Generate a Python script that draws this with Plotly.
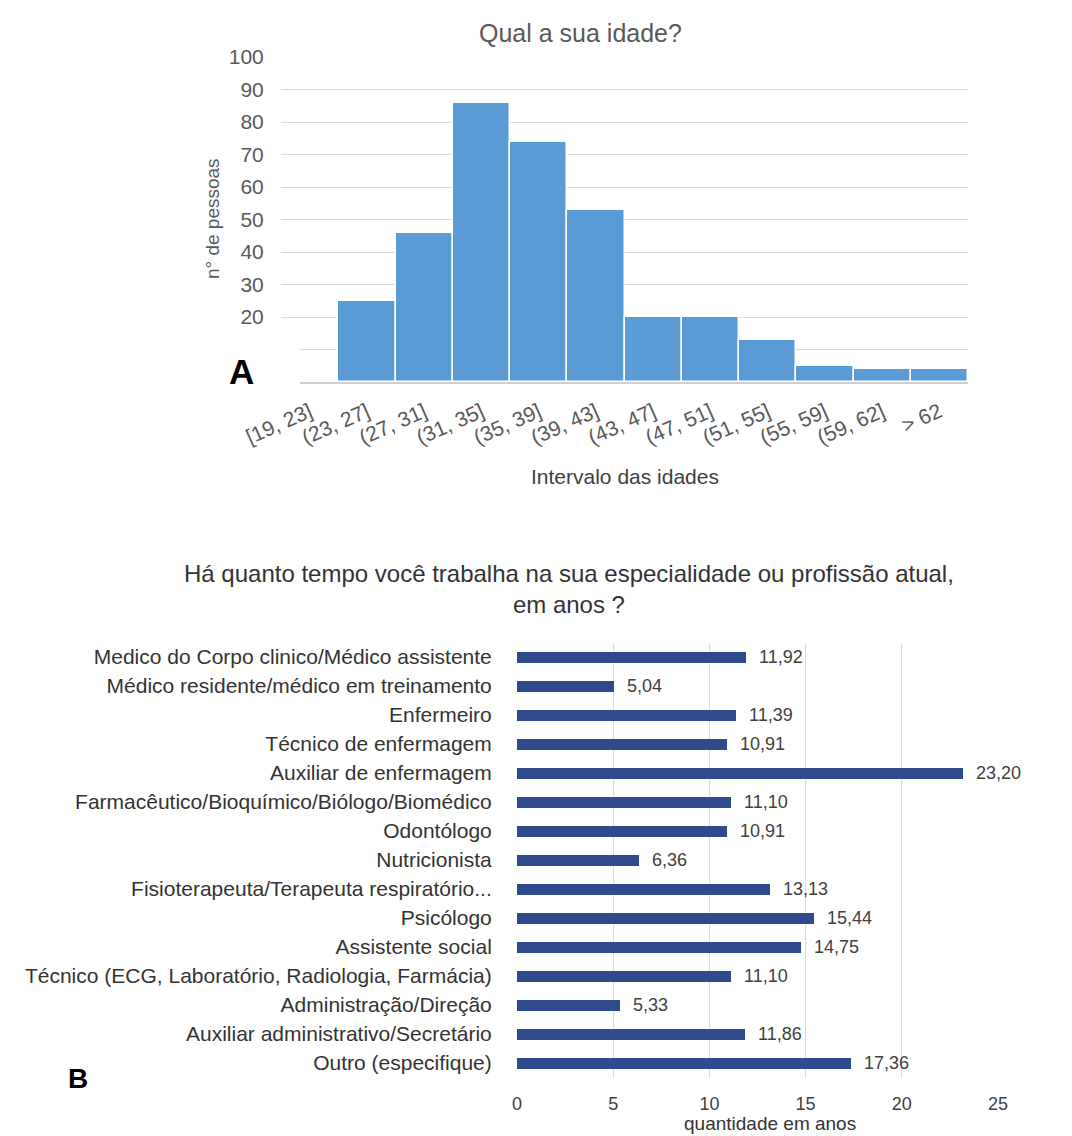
import plotly.graph_objects as go

# Age distribution of respondents
idade_faixas = ["[19, 23]", "(23, 27]", "(27, 31]", "(31, 35]", "(35, 39]", "(39, 43]",
                "(43, 47]", "(47, 51]", "(51, 55]", "(55, 59]", "(59, 62]", "> 62"]
idade_pessoas = [0, 25, 46, 86, 74, 53, 20, 20, 13, 5, 4, 4]
idade_ticks = [0, 10, 20, 30, 40, 50, 60, 70, 80, 90, 100]

# Years working in current speciality / profession
profissoes = [
    "Medico do Corpo clinico/Médico assistente",
    "Médico residente/médico em treinamento",
    "Enfermeiro",
    "Técnico de enfermagem",
    "Auxiliar de enfermagem",
    "Farmacêutico/Bioquímico/Biólogo/Biomédico",
    "Odontólogo",
    "Nutricionista",
    "Fisioterapeuta/Terapeuta respiratório...",
    "Psicólogo",
    "Assistente social",
    "Técnico (ECG, Laboratório, Radiologia, Farmácia)",
    "Administração/Direção",
    "Auxiliar administrativo/Secretário",
    "Outro (especifique)",
]
anos = [11.92, 5.04, 11.39, 10.91, 23.20, 11.10, 10.91, 6.36, 13.13,
        15.44, 14.75, 11.10, 5.33, 11.86, 17.36]

W, H = 1072, 1136
FONT = "Liberation Sans, Arial, sans-serif"


def px(x):
    return x / W


def py(y):
    return 1 - y / H


def fmt(v):
    return "\u00a0\u00a0" + f"{v:.2f}".replace(".", ",")


def label(text, x, y, size, color="#404040", **kw):
    return dict(text=text, x=px(x), y=py(y), xref="paper", yref="paper",
                xanchor="center", yanchor="middle", showarrow=False,
                font=dict(size=size, color=color), **kw)


fig = go.Figure()

fig.add_trace(go.Bar(
    x=idade_faixas, y=idade_pessoas, width=1,
    marker=dict(color="#5B9BD5", line=dict(color="white", width=1.5)),
    xaxis="x", yaxis="y", showlegend=False,
))

fig.add_trace(go.Bar(
    x=anos, y=profissoes, orientation="h", width=0.35,
    marker=dict(color="#2F4B8C", line=dict(width=0)),
    text=[fmt(v) for v in anos], textposition="outside",
    constraintext="none", cliponaxis=False,
    textfont=dict(size=18, color="#404040", family=FONT),
    xaxis="x2", yaxis="y2", showlegend=False,
))

fig.update_layout(
    width=W, height=H, autosize=False,
    margin=dict(l=0, r=0, t=0, b=0, pad=0),
    paper_bgcolor="white", plot_bgcolor="white",
    font=dict(family=FONT, color="#404040"),
    bargap=0,
    xaxis=dict(
        domain=[px(281), px(968)], anchor="y", type="category", automargin=False,
        tickangle=-24, tickfont=dict(size=21, color="#595959"),
        ticklabelstandoff=8,
        showgrid=False, zeroline=False,
        showline=True, linecolor="#d0d0d0", linewidth=1.5, ticks="",
    ),
    yaxis=dict(
        domain=[py(382), py(57)], anchor="x", range=[0, 100], automargin=False,
        tickvals=idade_ticks,
        ticktext=["" if t < 20 else str(t) for t in idade_ticks],
        tickfont=dict(size=21, color="#595959"),
        gridcolor="#dcdcdc", gridwidth=1.2, zeroline=False,
        ticks="outside", ticklen=12, tickcolor="rgba(0,0,0,0)",
    ),
    xaxis2=dict(
        domain=[px(517), px(998)], anchor="y2", range=[0, 25], dtick=5, automargin=False,
        tickfont=dict(size=18, color="#404040"),
        gridcolor="#dcdcdc", zeroline=False, showline=False,
        ticks="outside", ticklen=10, tickcolor="rgba(0,0,0,0)",
    ),
    yaxis2=dict(
        domain=[py(1077.5), py(642.5)], anchor="x2", automargin=False,
        categoryorder="array", categoryarray=profissoes, autorange="reversed",
        tickfont=dict(size=21, color="#333333"),
        showgrid=False, zeroline=False,
        ticks="outside", ticklen=20, tickcolor="rgba(0,0,0,0)",
    ),
    shapes=[dict(
        type="rect", xref="paper", yref="paper", layer="above",
        x0=px(190), x1=px(300), y0=py(392), y1=py(333),
        fillcolor="white", line=dict(width=0),
    )],
    annotations=[
        label("Qual a sua idade?", 580, 33, 25, "#595959"),
        label("n° de pessoas", 213, 219, 19, "#595959", textangle=-90),
        label("Intervalo das idades", 625, 476, 21),
        label("Há quanto tempo você trabalha na sua especialidade ou profissão atual,<br>em anos ?",
              569, 589, 24, "#333333"),
        label("quantidade em anos", 770, 1123, 19, "#333333"),
        label("<b>A</b>", 241, 371, 35, "black"),
        label("<b>B</b>", 78, 1078, 28, "black"),
    ],
)

fig.write_html("out.html")
